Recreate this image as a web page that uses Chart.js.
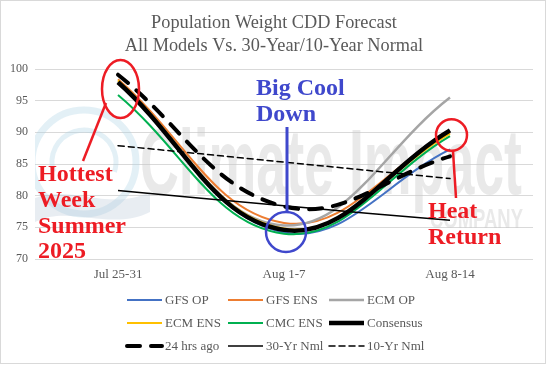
<!DOCTYPE html>
<html><head><meta charset="utf-8">
<script src="https://cdn.jsdelivr.net/npm/chart.js@4"></script>
<style>html,body{margin:0;padding:0;background:#fff;}#wrap{width:547px;height:365px;position:relative;}</style>
</head><body><div id="wrap"><canvas id="c" width="547" height="365"></canvas></div>
<script>
// ---- data ----
const categories = ['Jul 25-31', 'Aug 1-7', 'Aug 8-14'];
const gfsOp     = [97.8, 74.2, 87.3];
const gfsEns    = [98.4, 75.7, 90.0];
const ecmOp     = [98.0, 75.3, 95.5];
const ecmEns    = [98.2, 74.8, 89.8];
const cmcEns    = [95.9, 74.0, 89.4];
const consensus = [97.9, 74.6, 90.3];
const hrs24Ago  = [99.1, 78.3, 86.2];
const nml30     = [80.8, 78.4, 76.1];
const nml10     = [87.9, 85.3, 82.7];
const yMin = 70, yMax = 100, yStep = 5;
const titleLines = ['Population Weight CDD Forecast', 'All Models Vs. 30-Year/10-Year Normal'];

const SERIF = '"Liberation Serif", "Times New Roman", serif';
const GRAY_TXT = '#595959';

const seriesDefs = [
  {label: 'GFS OP',     data: gfsOp,     color: '#4472C4', width: 2,   dash: []},
  {label: 'GFS ENS',    data: gfsEns,    color: '#ED7D31', width: 2,   dash: []},
  {label: 'ECM OP',     data: ecmOp,     color: '#A5A5A5', width: 2.5, dash: []},
  {label: 'ECM ENS',    data: ecmEns,    color: '#FFC000', width: 2,   dash: []},
  {label: 'CMC ENS',    data: cmcEns,    color: '#00B050', width: 2,   dash: []},
  {label: 'Consensus',  data: consensus, color: '#000000', width: 4.5, dash: []},
  {label: '24 hrs ago', data: hrs24Ago,  color: '#000000', width: 4,   dash: [13, 11]},
  {label: '30-Yr Nml',  data: nml30,     color: '#000000', width: 1.5, dash: []},
  {label: '10-Yr Nml',  data: nml10,     color: '#000000', width: 1.5, dash: [6, 4]}
];

const datasets = seriesDefs.map((s, i) => ({
  label: s.label, data: s.data,
  borderColor: s.color, backgroundColor: s.color,
  borderWidth: s.width, borderDash: s.dash,
  borderCapStyle: s.dash.length ? 'round' : 'butt',
  pointRadius: 0, pointHoverRadius: 0,
  tension: 0.4, fill: false,
  order: seriesDefs.length - i
}));

const framePlugin = {
  id: 'frame',
  beforeDraw(chart) {
    const ctx = chart.ctx;
    ctx.save();
    ctx.fillStyle = '#ffffff';
    ctx.fillRect(0, 0, chart.width, chart.height);
    ctx.strokeStyle = '#d9d9d9';
    ctx.lineWidth = 1;
    ctx.strokeRect(0.5, 0.5, chart.width - 2, chart.height - 2);
    ctx.restore();
  }
};

const watermarkPlugin = {
  id: 'watermark',
  beforeDatasetsDraw(chart) {
    const ctx = chart.ctx, ca = chart.chartArea;
    ctx.save();
    ctx.beginPath();
    ctx.rect(ca.left, ca.top, ca.right - ca.left, ca.bottom - ca.top);
    ctx.clip();
    // logo ring
    ctx.strokeStyle = 'rgba(175,212,228,0.35)';
    ctx.lineWidth = 7;
    ctx.beginPath(); ctx.arc(84, 162, 52, 0, Math.PI * 2); ctx.stroke();
    ctx.lineWidth = 5;
    ctx.beginPath(); ctx.arc(84, 162, 32, Math.PI * 0.9, Math.PI * 2.1); ctx.stroke();
    // wave band
    ctx.fillStyle = 'rgba(180,196,212,0.3)';
    ctx.beginPath();
    ctx.moveTo(35, 198);
    ctx.bezierCurveTo(70, 184, 110, 212, 150, 192);
    ctx.lineTo(150, 212);
    ctx.bezierCurveTo(110, 232, 70, 204, 35, 222);
    ctx.closePath(); ctx.fill();
    // watermark text
    ctx.fillStyle = 'rgba(200,200,200,0.4)';
    ctx.font = 'bold 92px "Liberation Sans", Arial, sans-serif';
    ctx.textBaseline = 'alphabetic';
    const w = ctx.measureText('Climate Impact').width;
    ctx.save();
    ctx.translate(140, 194);
    ctx.scale(382 / w, 1);
    ctx.fillText('Climate Impact', 0, 0);
    ctx.restore();
    ctx.font = 'bold 28px "Liberation Sans", Arial, sans-serif';
    const w2 = ctx.measureText('COMPANY').width;
    ctx.save();
    ctx.translate(430, 228);
    ctx.scale(93 / w2, 1);
    ctx.fillText('COMPANY', 0, 0);
    ctx.restore();
    ctx.restore();
  }
};

function ellipse(ctx, cx, cy, rx, ry) {
  ctx.beginPath(); ctx.ellipse(cx, cy, rx, ry, 0, 0, Math.PI * 2); ctx.stroke();
}
function seg(ctx, x1, y1, x2, y2) {
  ctx.beginPath(); ctx.moveTo(x1, y1); ctx.lineTo(x2, y2); ctx.stroke();
}

const annotationPlugin = {
  id: 'annot',
  afterDatasetsDraw(chart) {
    const ctx = chart.ctx;
    ctx.save();
    const RED = '#ED1C24', BLUE = '#3F48CC';
    ctx.lineWidth = 2.5;
    ctx.strokeStyle = RED;
    ellipse(ctx, 120.5, 89, 18.5, 29);
    seg(ctx, 106, 103, 83, 161);
    ellipse(ctx, 451.5, 135, 15.5, 15.7);
    seg(ctx, 453, 151, 456, 198);
    ctx.strokeStyle = BLUE;
    ctx.lineWidth = 3;
    seg(ctx, 287, 127, 287, 212);
    ctx.lineWidth = 2.5;
    ellipse(ctx, 286, 232, 20, 20);
    ctx.font = 'bold 24px ' + SERIF;
    ctx.textBaseline = 'alphabetic';
    ctx.textAlign = 'left';
    ctx.fillStyle = RED;
    ['Hottest', 'Week', 'Summer', '2025'].forEach((t, i) => ctx.fillText(t, 38, 181 + i * 25.8));
    ctx.fillText('Heat', 428, 218);
    ctx.fillText('Return', 428, 244);
    ctx.fillStyle = BLUE;
    ctx.fillText('Big Cool', 256, 95);
    ctx.fillText('Down', 256, 121);
    ctx.restore();
  }
};

const titleLegendPlugin = {
  id: 'titleLegend',
  afterDraw(chart) {
    const ctx = chart.ctx;
    ctx.save();
    ctx.fillStyle = GRAY_TXT;
    ctx.font = '18.3px ' + SERIF;
    ctx.textAlign = 'center';
    ctx.textBaseline = 'alphabetic';
    ctx.fillText(titleLines[0], 274, 28);
    ctx.fillText(titleLines[1], 274, 50.5);
    // legend: 3 columns x 3 rows
    const colX = [127, 228, 329], rowY = [300, 323, 346];
    ctx.font = '13px ' + SERIF;
    ctx.textAlign = 'left';
    ctx.textBaseline = 'middle';
    chart.data.datasets.forEach((ds, i) => {
      const x = colX[i % 3], y = rowY[Math.floor(i / 3)];
      ctx.save();
      ctx.strokeStyle = ds.borderColor;
      ctx.lineWidth = ds.borderWidth;
      ctx.setLineDash(ds.borderDash || []);
      ctx.lineCap = ds.borderCapStyle;
      ctx.beginPath(); ctx.moveTo(x, y); ctx.lineTo(x + 35, y); ctx.stroke();
      ctx.restore();
      ctx.fillStyle = GRAY_TXT;
      ctx.fillText(ds.label, x + 38, y + 0.5);
    });
    ctx.restore();
  }
};

new Chart(document.getElementById('c'), {
  type: 'line',
  data: {labels: categories, datasets},
  plugins: [framePlugin, watermarkPlugin, annotationPlugin, titleLegendPlugin],
  options: {
    responsive: false, animation: false, devicePixelRatio: 1,
    layout: {padding: {left: 0, right: 14, top: 69, bottom: 76}},
    plugins: {legend: {display: false}, title: {display: false}, tooltip: {enabled: false}},
    scales: {
      x: {
        offset: true,
        grid: {display: false, drawTicks: false},
        border: {display: false},
        ticks: {color: GRAY_TXT, font: {family: SERIF, size: 13}, padding: 8, maxRotation: 0},
        afterFit(s) { s.height = 30; }
      },
      y: {
        min: yMin, max: yMax,
        grid: {color: '#d9d9d9', lineWidth: 1, drawTicks: false},
        border: {display: false},
        ticks: {stepSize: yStep, color: GRAY_TXT, font: {family: SERIF, size: 12}, padding: 7},
        afterFit(s) { s.width = 35; }
      }
    }
  }
});
</script>
</body></html>
